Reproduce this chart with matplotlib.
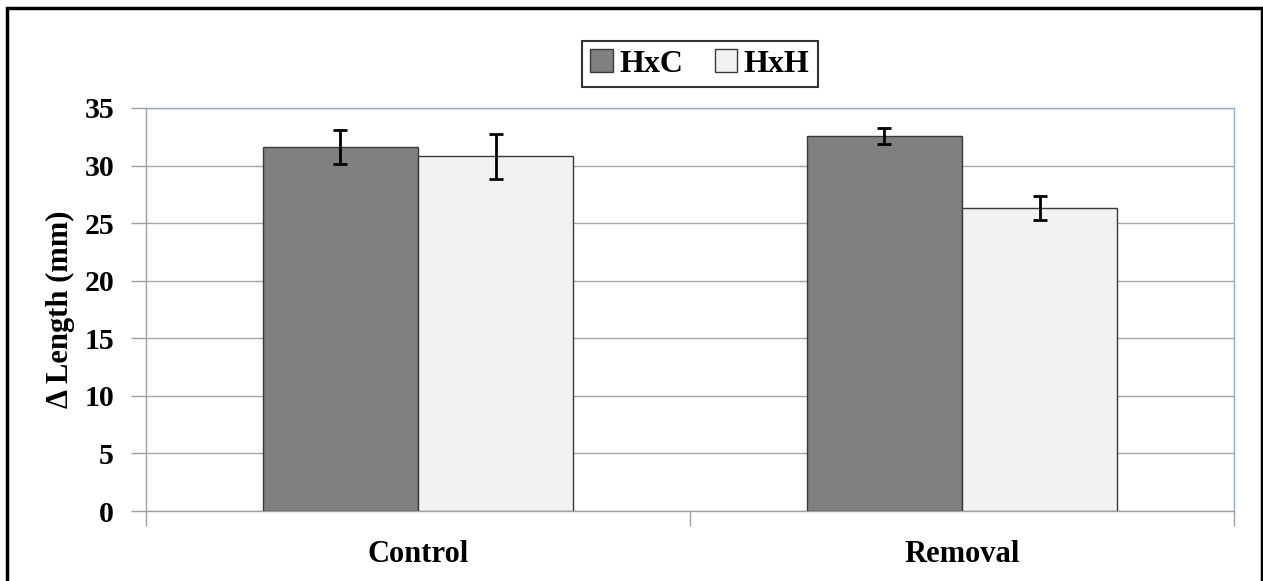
import matplotlib
matplotlib.use("Agg")
import matplotlib.pyplot as plt
from matplotlib.patches import Rectangle
import numpy as np

categories = ["Control", "Removal"]
series_names = ["HxC", "HxH"]
hxc_values = [31.6, 32.6]
hxc_errors = [1.5, 0.7]
hxh_values = [30.8, 26.35]
hxh_errors = [1.95, 1.05]
yticks = [0, 5, 10, 15, 20, 25, 30, 35]

plt.rcParams['font.family'] = ['Liberation Serif', 'DejaVu Serif']
plt.rcParams['font.weight'] = 'bold'

fig = plt.figure(figsize=(12.63, 5.81), dpi=100)
ax = fig.add_axes([146/1263, 1-511/581, (1234-146)/1263, (511-108)/581])

x = np.arange(len(categories))
w = 0.285
err_kw = dict(ecolor='black', elinewidth=2.0, capsize=4.8, capthick=2.0)
b1 = ax.bar(x - w/2, hxc_values, w, yerr=hxc_errors, color='#808080', edgecolor='#3a3a3a',
            linewidth=1.0, error_kw=err_kw, label=series_names[0], zorder=3)
b2 = ax.bar(x + w/2, hxh_values, w, yerr=hxh_errors, color='#f2f2f2', edgecolor='#3a3a3a',
            linewidth=1.0, error_kw=err_kw, label=series_names[1], zorder=3)

ax.set_xlim(-0.5, len(categories) - 0.5)
ax.set_ylim(0, 35)
ax.set_yticks(yticks)
ax.yaxis.grid(True, color='#a6a6a6', linewidth=1.0, zorder=0)
ax.set_axisbelow(True)

ax.set_xticks(x)
ax.set_xticklabels(categories, fontsize=22, fontweight='bold')
ax.set_xticks(np.arange(-0.5, len(categories)), minor=True)
ax.tick_params(axis='x', which='major', length=0, pad=21)
ax.tick_params(axis='x', which='minor', length=11, width=1, color='#a0a0a0', direction='out')
ax.tick_params(axis='y', length=11, width=1, color='#a0a0a0', pad=12, labelsize=21.5)
for lbl in ax.get_yticklabels():
    lbl.set_fontweight('bold')

ax.spines['left'].set_color('#a0a0a0')
ax.spines['bottom'].set_color('#a0a0a0')
ax.spines['top'].set_color('#8faad8')
ax.spines['right'].set_color('#8faad8')
for s in ax.spines.values():
    s.set_linewidth(1.0)

ax.set_ylabel("Δ Length (mm)", fontsize=22, fontweight='bold', labelpad=7)

leg = fig.legend(handles=[b1, b2], labels=series_names, loc='center',
                 bbox_to_anchor=(700/1263, 1-64/581), ncol=2, frameon=True, fancybox=False,
                 edgecolor='black', prop={'weight': 'bold', 'size': 23},
                 handlelength=0.7, handleheight=0.7, handletextpad=0.2, columnspacing=1.0,
                 borderpad=0.25, borderaxespad=0)
leg.get_frame().set_linewidth(1.5)

border = Rectangle((7/1263, -0.05), (1262-7)/1263, 1.05 - 8/581, transform=fig.transFigure,
                   fill=False, edgecolor='black', linewidth=2.5, clip_on=False)
fig.patches.append(border)

fig.savefig("out.png", dpi=100)
